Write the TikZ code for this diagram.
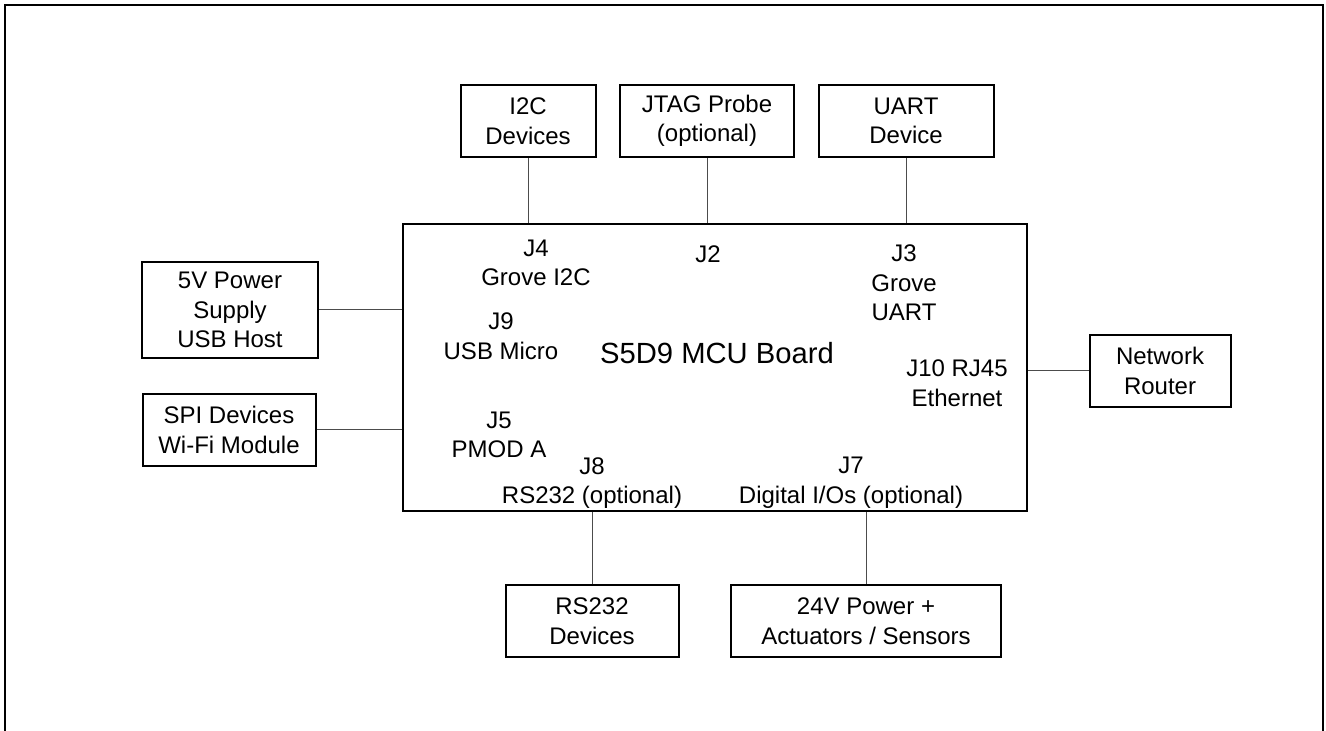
\documentclass[tikz,border=0pt]{standalone}
\usepackage{fontspec}
\setmainfont{Liberation Sans}
\usetikzlibrary{calc}

\begin{document}
\begin{tikzpicture}[
  x=0.5pt, y=-0.5pt,
  every node/.style={align=center, inner sep=0pt, font=\fontsize{12pt}{14.8pt}\selectfont},
  box/.style={draw, line width=1pt, minimum height=36pt},
  board/.style={draw, line width=1.1pt, minimum width=312pt, minimum height=143.5pt},
  lbl/.style={},
  title/.style={font=\fontsize{14.6pt}{17pt}\selectfont},
  wire/.style={draw=black!70, line width=0.5pt},
  frame/.style={line width=1pt}
]
\useasboundingbox (0,0) rectangle (1326,731);
\draw[frame] (5,731) -- (5,5) -- (1323,5) -- (1323,731);

\node[board] (board) at (715,367.5) {};
\node[title] (name) at (717,353) {S5D9 MCU Board};

% connector labels on the board
\node[lbl] (j4)  at (536,263) {J4\\Grove I2C};
\node[lbl] (j2)  at (708,254) {J2};
\node[lbl] (j3)  at (904,283) {J3\\Grove\\UART};
\node[lbl] (j9)  at (501,336) {J9\\USB Micro};
\node[lbl] (j10) at (957,383) {J10 RJ45\\Ethernet};
\node[lbl] (j5)  at (499,435) {J5\\PMOD A};
\node[lbl] (j8)  at (592,483) {J8\\RS232 (optional)};
\node[lbl] (j7)  at (851,483) {J7\\Digital I/Os (optional)};

% outside devices
\node[box, minimum width=67.5pt] (i2c)   at (528,121) {I2C\\Devices};
\node[box, minimum width=87pt]   (jtag)  at (707,121) {JTAG Probe\\(optional)};
\node[box, minimum width=87.5pt] (uart)  at (906,121) {UART\\Device};
\node[box, minimum width=88pt, minimum height=48pt] (power) at (230,310) {5V Power\\Supply\\USB Host};
\node[box, minimum width=86.5pt] (spi)   at (229,430) {SPI Devices\\Wi-Fi Module};
\node[box, minimum width=70.5pt] (net)   at (1160,371) {Network\\Router};
\node[box, minimum width=86.5pt] (rs232) at (592,621) {RS232\\Devices};
\node[box, minimum width=135pt]  (dio)   at (866,621) {24V Power +\\Actuators / Sensors};

\draw[wire] (i2c.south)  -- (i2c.south |- board.north);
\draw[wire] (jtag.south) -- (jtag.south |- board.north);
\draw[wire] (uart.south) -- (uart.south |- board.north);
\draw[wire] (power.east) -- (power.east -| board.west);
\draw[wire] (spi.east)   -- (spi.east -| board.west);
\draw[wire] (net.west)   -- (net.west -| board.east);
\draw[wire] (rs232.north) -- (rs232.north |- board.south);
\draw[wire] (dio.north)  -- (dio.north |- board.south);
\end{tikzpicture}
\end{document}
